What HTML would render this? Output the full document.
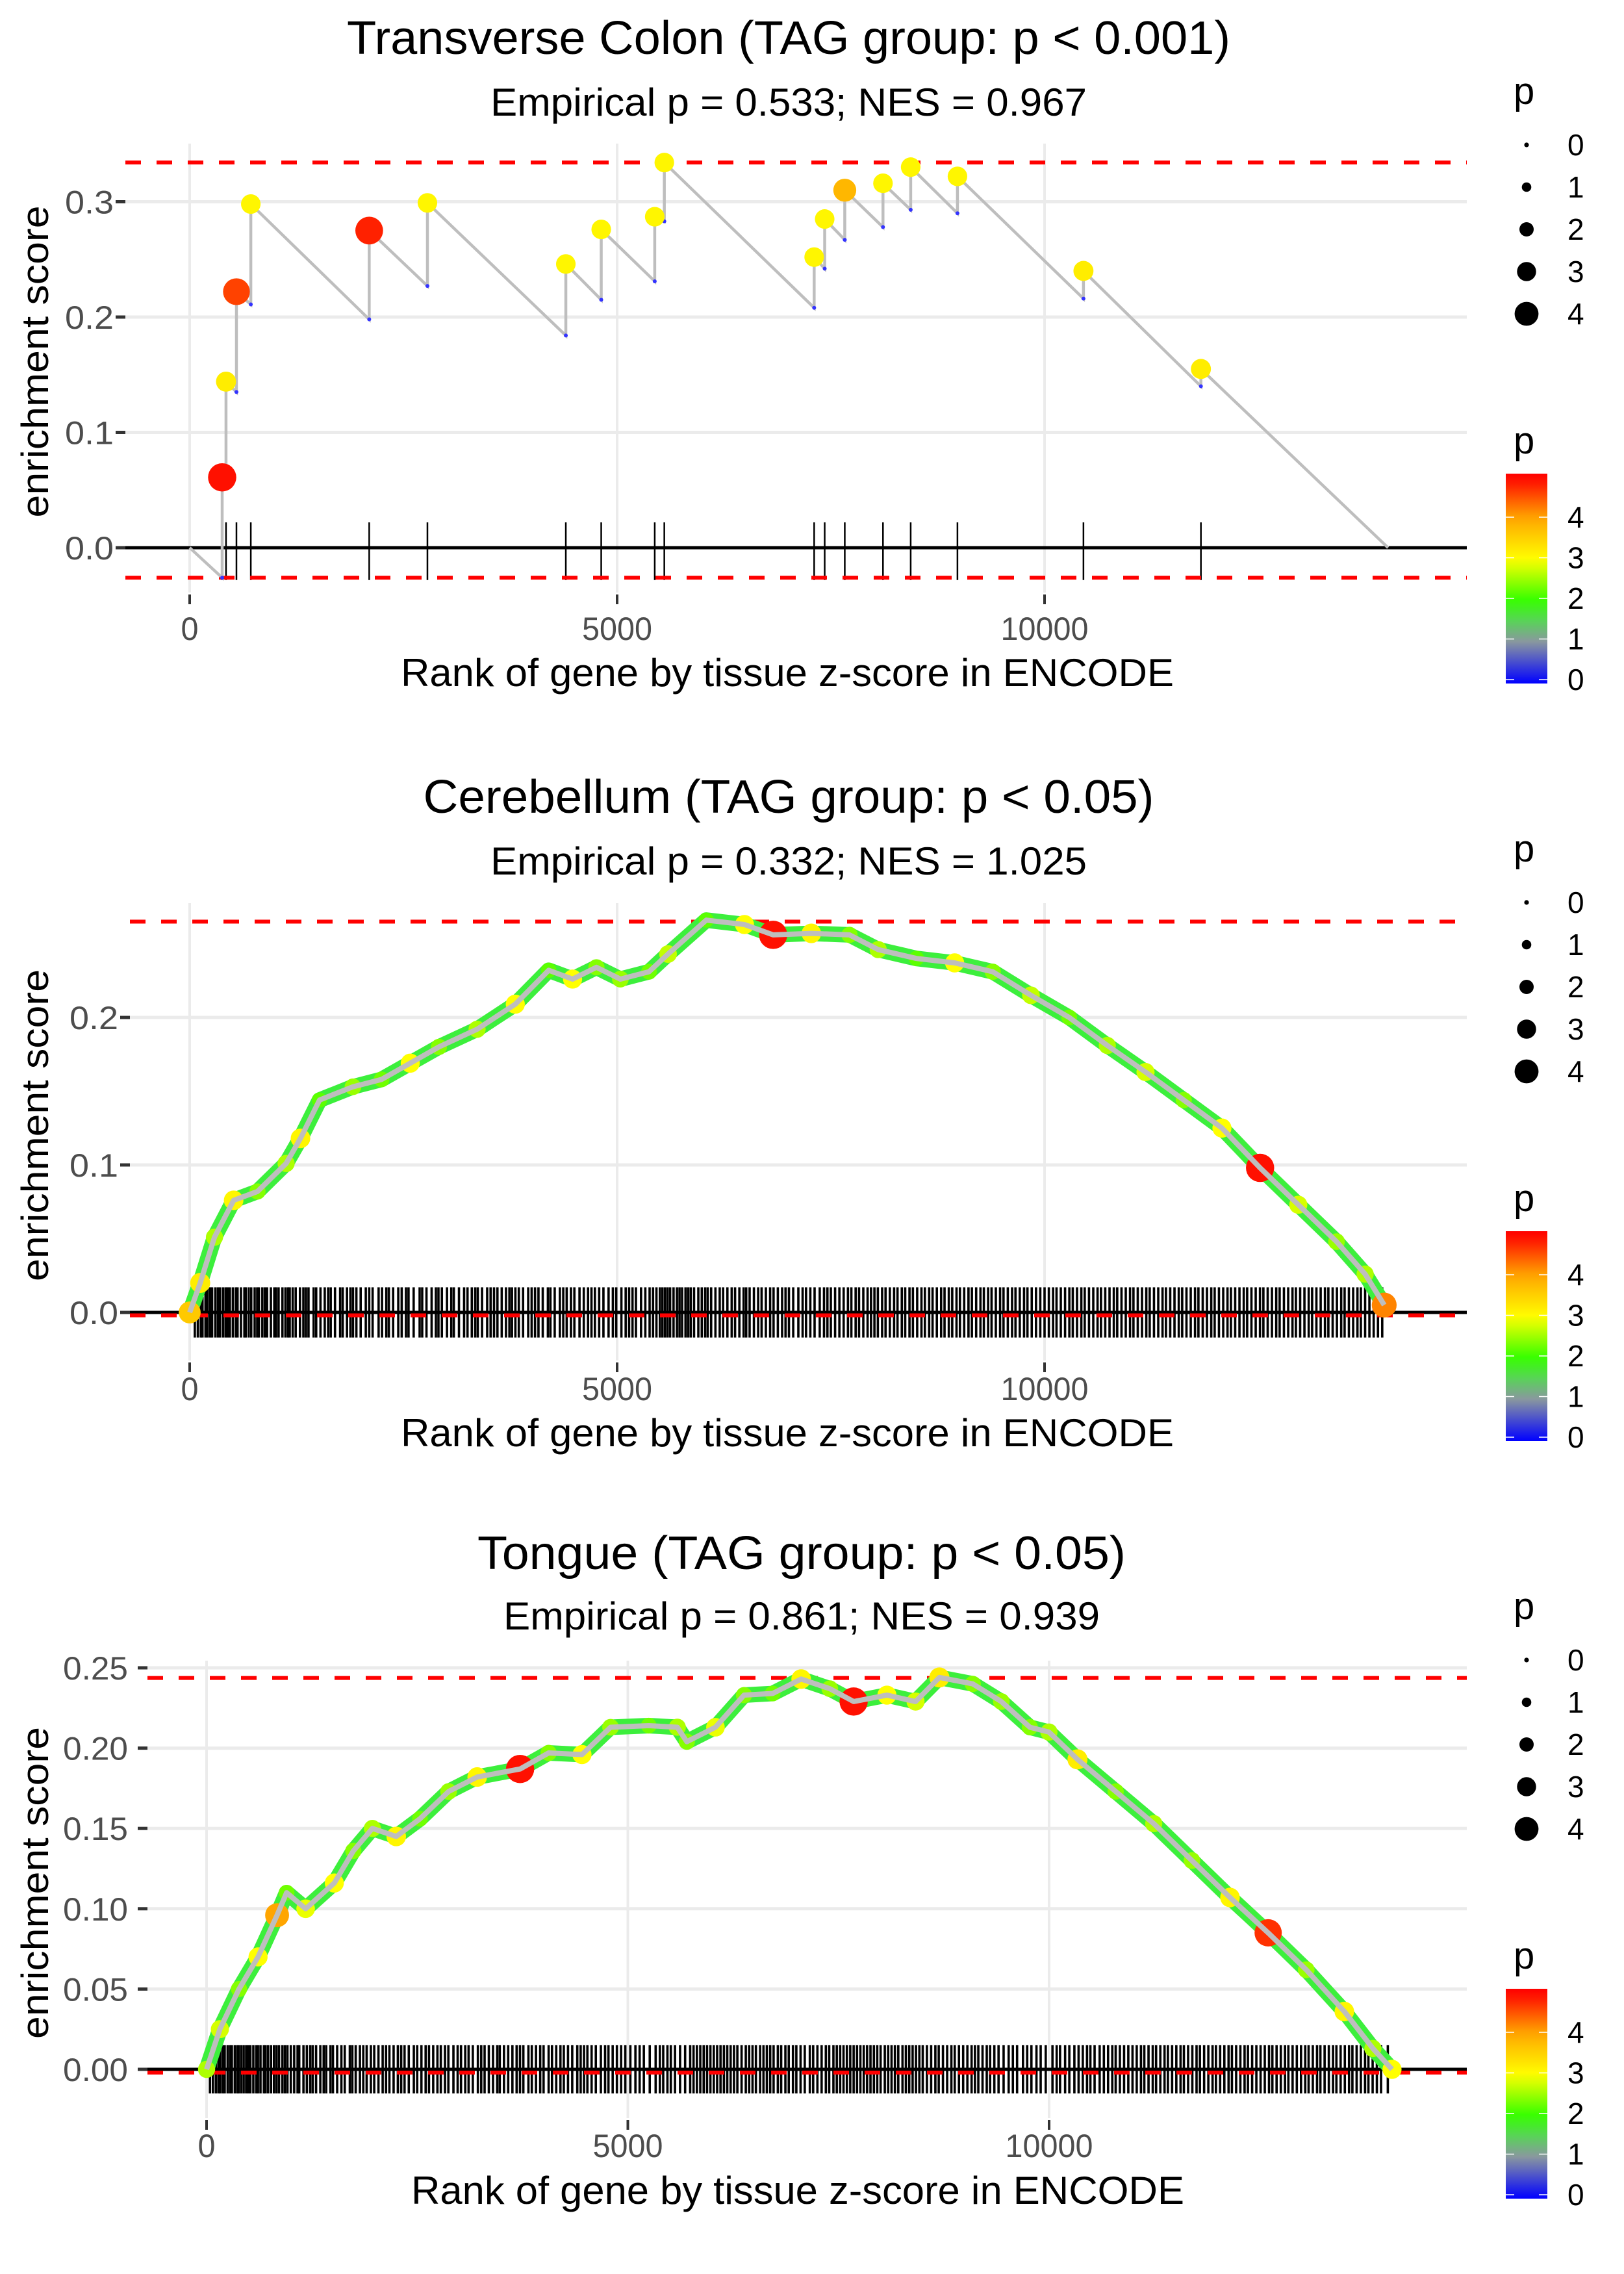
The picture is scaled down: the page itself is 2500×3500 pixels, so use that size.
<!DOCTYPE html>
<html><head><meta charset="utf-8"><title>Enrichment plots</title>
<style>
html,body{margin:0;padding:0;background:#fff;}
svg{display:block;font-family:"Liberation Sans",Arial,sans-serif;}
</style></head>
<body>
<svg id="chart" width="2500" height="3500" viewBox="0 0 2500 3500" xmlns="http://www.w3.org/2000/svg"></svg>
<script>
// ---------- Panel 1 data (Transverse Colon) ----------
const p1Ranks = [380,425,547,715,2100,2781,4400,4814,5440,5552,7305,7428,7663,8110,8434,8981,10455,11829];
const p1Peaks = [0.061,0.144,0.222,0.298,0.275,0.299,0.246,0.276,0.287,0.334,0.252,0.285,0.310,0.316,0.330,0.322,0.240,0.155];
const p1Lows = [-0.026,0.057,0.135,0.211,0.198,0.227,0.184,0.215,0.231,0.283,0.208,0.242,0.267,0.278,0.293,0.290,0.216,0.140];
const p1P = [4.9,3.2,4.6,3.1,4.8,3.1,3.1,3.1,3.1,3.1,3.1,3.1,3.8,3.1,3.1,3.1,3.2,3.2];
const p1End = 14018;
const p1Max = 0.334, p1Min = -0.026;
const p1YTicks = [0.0,0.1,0.2,0.3];
const p1YLabels = ["0.0","0.1","0.2","0.3"];

// ---------- Panel 2 data (Cerebellum) ----------
const p2Ranks = [0,123,290,514,793,1128,1296,1519,1910,2245,2580,2915,3362,3809,4200,4479,4758,5038,5373,5596,6043,6490,6825,7272,7718,8054,8501,8948,9394,9841,10288,10734,11181,11628,12075,12521,12968,13415,13750,13973];
const p2ES = [0,0.020,0.051,0.076,0.082,0.101,0.118,0.144,0.153,0.158,0.169,0.180,0.192,0.209,0.232,0.226,0.234,0.226,0.231,0.243,0.266,0.263,0.256,0.257,0.256,0.246,0.240,0.237,0.231,0.215,0.200,0.181,0.163,0.144,0.125,0.098,0.073,0.048,0.026,0.005];
const p2P = [3.6,3.2,2.6,3.1,2.4,2.6,3.1,2.2,2.5,2.3,3.0,2.4,2.6,3.0,2.2,3.0,2.4,2.5,2.3,2.7,2.2,3.0,4.9,3.1,2.4,2.6,2.2,3.0,2.4,2.7,2.3,2.6,2.8,2.4,3.0,4.9,2.8,2.5,2.6,4.2];
const p2Max = 0.265, p2Min = -0.002;
const p2YTicks = [0.0,0.1,0.2];
const p2YLabels = ["0.0","0.1","0.2"];
const p2Genes = [60,95,130,150,185,210,240,262,300,330,355,390,420,445,470,505,540,560,600,640,655,690,720,760,790,810,850,880,905,950,990,1010,1040,1085,1120,1150,1170,1205,1240,1290,1330,1360,1390,1450,1480,1530,1580,1620,1650,1700,1760,1790,1840,1880,1910,1950,2000,2060,2100,2140,2210,2250,2300,2330,2380,2440,2480,2530,2560,2620,2690,2720,2770,2830,2880,2910,2950,3010,3060,3090,3150,3210,3250,3300,3340,3370,3420,3480,3520,3560,3600,3650,3700,3740,3770,3810,3850,3900,3960,4000,4040,4080,4130,4190,4220,4270,4330,4370,4410,4460,4500,4560,4610,4660,4700,4740,4790,4840,4900,4950,4990,5050,5100,5140,5180,5220,5280,5330,5380,5420,5460,5500,5530,5560,5590,5620,5660,5700,5730,5760,5800,5830,5860,5900,5950,5990,6030,6060,6100,6150,6200,6240,6290,6340,6380,6430,6480,6510,6550,6600,6650,6690,6740,6790,6830,6880,6930,6970,7010,7060,7120,7170,7210,7260,7310,7370,7420,7460,7500,7550,7600,7650,7700,7740,7790,7830,7880,7930,7970,8010,8050,8100,8140,8190,8240,8280,8330,8370,8420,8460,8510,8560,8600,8650,8690,8740,8790,8830,8880,8920,8970,9010,9060,9110,9150,9200,9250,9290,9340,9380,9430,9480,9520,9570,9620,9660,9710,9760,9800,9850,9900,9950,10000,10050,10100,10140,10190,10240,10290,10330,10380,10430,10470,10520,10570,10620,10660,10710,10760,10810,10850,10900,10950,11000,11040,11090,11140,11190,11230,11280,11330,11380,11420,11470,11520,11570,11610,11660,11710,11760,11800,11850,11900,11950,11990,12040,12090,12140,12180,12230,12280,12330,12370,12420,12470,12520,12560,12610,12660,12710,12750,12800,12850,12900,12940,12990,13040,13090,13130,13180,13230,13280,13320,13370,13420,13470,13510,13560,13610,13660,13700,13750,13800,13850,13900,13950];

// ---------- Panel 3 data (Tongue) ----------
const p3Ranks = [0,158,385,611,837,950,1176,1516,1742,1968,2251,2533,2873,3212,3721,4060,4456,4795,5248,5587,5700,6040,6379,6718,7057,7397,7680,8075,8415,8698,9094,9433,9772,9998,10337,10790,11242,11695,12147,12600,13052,13504,13843,14070];
const p3ES = [0,0.025,0.050,0.070,0.096,0.110,0.100,0.116,0.136,0.150,0.145,0.156,0.173,0.182,0.187,0.197,0.196,0.213,0.214,0.213,0.204,0.213,0.233,0.234,0.243,0.237,0.229,0.233,0.229,0.244,0.240,0.229,0.213,0.210,0.193,0.173,0.153,0.130,0.107,0.085,0.062,0.036,0.013,0];
const p3P = [2.6,2.8,2.4,3.0,4.0,2.3,2.9,3.0,2.4,2.6,3.1,2.3,2.5,3.1,4.9,2.4,3.0,2.5,2.3,2.6,2.4,2.9,2.4,2.3,3.1,2.5,4.9,3.0,2.8,3.2,2.4,2.5,2.4,2.6,3.2,2.4,2.6,2.5,3.1,4.7,2.5,3.1,2.6,3.0];
const p3Max = 0.2437, p3Min = -0.002;
const p3YTicks = [0.00,0.05,0.10,0.15,0.20,0.25];
const p3YLabels = ["0.00","0.05","0.10","0.15","0.20","0.25"];
const p3Genes = [40,75,110,140,160,190,215,250,280,300,335,365,380,410,440,470,495,520,555,590,610,640,680,700,730,765,800,830,860,900,930,960,1000,1040,1080,1100,1150,1190,1230,1260,1300,1350,1390,1420,1470,1500,1550,1600,1640,1700,1730,1770,1820,1860,1900,1950,1990,2040,2090,2130,2170,2220,2270,2310,2350,2400,2460,2500,2550,2600,2640,2690,2740,2780,2830,2870,2930,2980,3020,3070,3110,3160,3220,3260,3300,3350,3400,3450,3480,3530,3580,3630,3680,3720,3760,3820,3860,3910,3960,4000,4060,4100,4150,4200,4240,4290,4340,4400,4440,4480,4520,4570,4620,4680,4730,4770,4820,4870,4920,4970,5030,5090,5140,5190,5260,5330,5380,5420,5470,5510,5560,5620,5680,5740,5780,5820,5860,5900,5940,5980,6020,6060,6100,6140,6180,6220,6260,6300,6350,6400,6440,6480,6520,6570,6610,6650,6690,6730,6780,6820,6870,6910,6960,7000,7050,7100,7160,7200,7250,7300,7350,7390,7440,7480,7520,7560,7600,7640,7680,7720,7760,7800,7840,7880,7920,7960,8000,8050,8090,8130,8170,8210,8260,8300,8340,8380,8420,8460,8500,8550,8600,8650,8690,8740,8790,8840,8880,8930,8980,9030,9080,9120,9160,9210,9260,9300,9350,9400,9460,9520,9570,9620,9690,9740,9790,9850,9900,9960,10040,10090,10130,10190,10240,10300,10350,10400,10450,10490,10540,10600,10650,10700,10750,10790,10840,10890,10940,10990,11040,11090,11130,11180,11230,11270,11320,11370,11410,11460,11510,11560,11600,11650,11700,11750,11790,11840,11890,11940,11980,12030,12080,12130,12170,12220,12270,12320,12360,12410,12460,12510,12560,12610,12650,12700,12750,12800,12840,12890,12940,12990,13040,13080,13130,13180,13220,13270,13320,13370,13410,13460,13510,13560,13600,13650,13700,13750,13790,13840,13890,13940,14020];

const xTicks = [0,5000,10000];
const xTickLabels = ["0","5000","10000"];
const legendSizes = [0,1,2,3,4];
const legendColorTicks = [0,1,2,3,4];

// ---------- helpers ----------
const NS = "http://www.w3.org/2000/svg";
const svg = document.getElementById("chart");
function mk(tag, attrs, parent){
  const e = document.createElementNS(NS, tag);
  for (const k in attrs) e.setAttribute(k, attrs[k]);
  (parent || svg).appendChild(e);
  return e;
}
function pColor(p){
  const stops = [[0,[0,0,255]],[1,[138,150,160]],[1.5,[90,210,90]],[2,[51,255,0]],[3,[255,255,0]],[4,[255,165,0]],[5,[255,0,0]]];
  if (p <= 0) return "rgb(0,0,255)";
  for (let i=1;i<stops.length;i++){
    if (p <= stops[i][0]){
      const a=stops[i-1], b=stops[i], t=(p-a[0])/(b[0]-a[0]);
      const c=a[1].map((v,j)=>Math.round(v+(b[1][j]-v)*t));
      return "rgb("+c.join(",")+")";
    }
  }
  return "rgb(255,0,0)";
}
function pRadius(p){ return 3.6 + 3.7*p; }

const panels = [
  {off:0, x0:292, x1:1608, left:193, right:2258, top:221, bottom:912, y0:843, yUnit:0.1, yPx:177.5,
   title:"Transverse Colon (TAG group: p < 0.001)", tW:1360, sub:"Empirical p = 0.533; NES = 0.967", sW:918,
   titleY:83, subY:178, xTickY:985, xTitleY:1056, legOff:0, yLabX:175, tickTop:0.022, tickBot:-0.028, cx:1214, xtx:1212},
  {off:1168, x0:292, x1:1608, left:200, right:2258, top:1390, bottom:2094, y0:2020, yUnit:0.1, yPx:227,
   title:"Cerebellum (TAG group: p < 0.05)", tW:1125, sub:"Empirical p = 0.332; NES = 1.025", sW:918,
   titleY:1251, subY:1346, xTickY:2155, xTitleY:2226, legOff:1166, yLabX:182, tickTop:0.017, tickBot:-0.017, cx:1214, xtx:1212},
  {off:2332, x0:318, x1:1615, left:227, right:2258, top:2556, bottom:3260, y0:3185, yUnit:0.05, yPx:123.6,
   title:"Tongue (TAG group: p < 0.05)", tW:998, sub:"Empirical p = 0.861; NES = 0.939", sW:918,
   titleY:2415, subY:2508, xTickY:3320, xTitleY:3392, legOff:2332, yLabX:197, tickTop:0.015, tickBot:-0.015, cx:1234, xtx:1228}
];
const yTickSets = [[p1YTicks,p1YLabels],[p2YTicks,p2YLabels],[p3YTicks,p3YLabels]];
const maxMin = [[p1Max,p1Min],[p2Max,p2Min],[p3Max,p3Min]];
const geneSets = [p1Ranks, p2Genes, p3Genes];

panels.forEach((P, pi) => {
  const X = r => P.x0 + (P.x1 - P.x0) * r / 10000;
  const Y = v => P.y0 - v / P.yUnit * P.yPx;
  const g = mk("g", {});
  
  

  const t = mk("text", {x:P.cx, y:P.titleY, "text-anchor":"middle", "font-size":72, fill:"#000", textLength:P.tW, lengthAdjust:"spacingAndGlyphs"}, g);
  t.textContent = P.title;
  
  
  const s = mk("text", {x:P.cx, y:P.subY, "text-anchor":"middle", "font-size":60, fill:"#000", textLength:P.sW, lengthAdjust:"spacingAndGlyphs"}, g);
  s.textContent = P.sub;
  
  

  const [yt, yl] = yTickSets[pi];
  yt.forEach((v,i) => {
    const gl = mk("line", {x1:P.left, x2:P.right, y1:Y(v), y2:Y(v), stroke:"#ebebeb", "stroke-width":5}, g);
    
    
    const tk = mk("line", {x1:P.left-15, x2:P.left, y1:Y(v), y2:Y(v), stroke:"#333", "stroke-width":5}, g);
    
    
    const lb = mk("text", {x:P.yLabX, y:Y(v)+18, "text-anchor":"end", "font-size":50, fill:"#4d4d4d", textLength:yl[i].length*25, lengthAdjust:"spacingAndGlyphs"}, g);
    lb.textContent = yl[i];
    
    
  });
  xTicks.forEach((v,i) => {
    const gl = mk("line", {x1:X(v), x2:X(v), y1:P.top, y2:P.bottom, stroke:"#ebebeb", "stroke-width":4}, g);
    
    
    const tk = mk("line", {x1:X(v), x2:X(v), y1:P.bottom+3, y2:P.bottom+18, stroke:"#333", "stroke-width":4}, g);
    
    
    const lb = mk("text", {x:X(v), y:P.xTickY, "text-anchor":"middle", "font-size":50, fill:"#4d4d4d", textLength:xTickLabels[i].length*27, lengthAdjust:"spacingAndGlyphs"}, g);
    lb.textContent = xTickLabels[i];
    
    
  });

  const xt = mk("text", {x:P.xtx, y:P.xTitleY, "text-anchor":"middle", "font-size":60, fill:"#000", textLength:1190, lengthAdjust:"spacingAndGlyphs"}, g);
  xt.textContent = "Rank of gene by tissue z-score in ENCODE";
  
  
  const ymid = (P.top + P.bottom)/2 - 10;
  const yT = mk("text", {x:0, y:0, transform:"translate(74,"+ymid+") rotate(-90)", "text-anchor":"middle", "font-size":58, fill:"#000", textLength:480, lengthAdjust:"spacingAndGlyphs"}, g);
  yT.textContent = "enrichment score";
  
  

  const genes = geneSets[pi];
  const tg = mk("g", {}, g);
  
  
  genes.forEach(r => {
    const l = mk("line", {x1:X(r), x2:X(r), y1:Y(P.tickTop), y2:Y(P.tickBot), stroke:"#000", "stroke-width": pi===0 ? 2.5 : 3.6}, tg);
    
    
  });

  const zl = mk("line", {x1:P.left, x2:P.right, y1:Y(0), y2:Y(0), stroke:"#000", "stroke-width":5}, g);
  
  

  const [mx, mn] = maxMin[pi];
  [mx, mn].forEach((v,i) => {
    const d = mk("line", {x1:P.left, x2:P.right, y1:Y(v), y2:Y(v), stroke:"#ff0000", "stroke-width":6, "stroke-dasharray":"24 24"}, g);
    
    
  });

  if (pi === 0) {
    let dstr = "M" + X(0) + "," + Y(0);
    p1Ranks.forEach((r,i) => { dstr += " L" + X(r) + "," + Y(p1Lows[i]) + " L" + X(r) + "," + Y(p1Peaks[i]); });
    dstr += " L" + X(p1End) + "," + Y(0);
    const path = mk("path", {d:dstr, fill:"none", stroke:"#bebebe", "stroke-width":4.5}, g);
    
    
    p1Ranks.forEach((r,i) => {
      const lo = mk("circle", {cx:X(r), cy:Y(p1Lows[i]), r:3, fill:"#3333ff"}, g);
      
      
    });
    p1Ranks.forEach((r,i) => {
      const c = mk("circle", {cx:X(r), cy:Y(p1Peaks[i]), r:pRadius(p1P[i]), fill:pColor(p1P[i])}, g);
      
      
    });
  } else {
    const ranks = pi===1 ? p2Ranks : p3Ranks;
    const es = pi===1 ? p2ES : p3ES;
    const pv = pi===1 ? p2P : p3P;
    const pts = ranks.map((r,i) => X(r) + "," + Y(es[i])).join(" ");
    const under = mk("polyline", {points:pts, fill:"none", stroke:"#3cef3c", "stroke-width":24, "stroke-linejoin":"round", "stroke-linecap":"round"}, g);
    
    
    ranks.forEach((r,i) => {
      const c = mk("circle", {cx:X(r), cy:Y(es[i]), r:pRadius(pv[i]), fill:pColor(pv[i])}, g);
      
      
    });
    const line = mk("polyline", {points:pts, fill:"none", stroke:"#bebebe", "stroke-width":8, "stroke-linejoin":"round"}, g);
    
    
  }

  const L = P.legOff;
  const lg = mk("g", {}, g);
  
  
  const lt = mk("text", {x:2330, y:160+L, "font-size":58, fill:"#000"}, lg);
  lt.textContent = "p";
  
  
  legendSizes.forEach((v,i) => {
    const cy = 223 + i*65 + L;
    const c = mk("circle", {cx:2350, cy:cy, r:pRadius(v), fill:"#000"}, lg);
    
    
    const tx = mk("text", {x:2413, y:cy+16, "font-size":46, fill:"#000"}, lg);
    tx.textContent = String(v);
    
    
  });
  const cg = mk("g", {}, g);
  
  
  const ct = mk("text", {x:2330, y:698+L, "font-size":58, fill:"#000"}, cg);
  ct.textContent = "p";
  
  
  const gid = "grad" + pi;
  const defs = mk("defs", {}, cg);
  const lgr = mk("linearGradient", {id:gid, x1:0, y1:1, x2:0, y2:0}, defs);
  for (let k=0;k<=20;k++){
    const pv = k*5.07/20;
    mk("stop", {offset:(k/20), "stop-color":pColor(pv)}, lgr);
  }
  const bar = mk("rect", {x:2318, y:729+L, width:64, height:323, fill:"url(#"+gid+")"}, cg);
  
  
  legendColorTicks.forEach(v => {
    const yy = 1046 - v*62.5 + L;
    mk("line", {x1:2318, x2:2331, y1:yy, y2:yy, stroke:"#fff", "stroke-width":1.5}, cg);
    mk("line", {x1:2369, x2:2382, y1:yy, y2:yy, stroke:"#fff", "stroke-width":1.5}, cg);
    const tx = mk("text", {x:2413, y:yy+16, "font-size":46, fill:"#000"}, cg);
    tx.textContent = String(v);
    
    
  });
});
</script>
</body></html>
